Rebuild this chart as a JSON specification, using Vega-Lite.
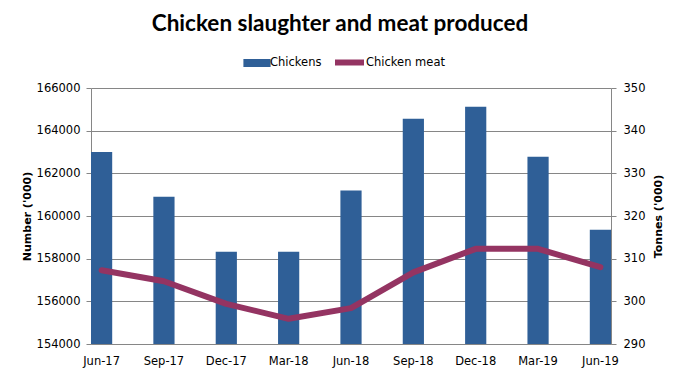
{
  "$schema": "https://vega.github.io/schema/vega-lite/v6.json",
  "width": 520,
  "height": 256,
  "autosize": {"type": "none"},
  "padding": {"left": 91, "top": 88, "right": 70, "bottom": 34},
  "background": "white",
  "title": {
    "text": "Chicken slaughter and meat produced",
    "font": "Lato",
    "fontSize": 22.5,
    "fontWeight": "bold",
    "color": "#000000",
    "anchor": "middle",
    "dx": -11,
    "offset": 10
  },
  "data": {
    "values": [
      {"period": "Jun-17", "chickens": 163000, "meat": 307.3},
      {"period": "Sep-17", "chickens": 160900, "meat": 304.7},
      {"period": "Dec-17", "chickens": 158320, "meat": 299.4},
      {"period": "Mar-18", "chickens": 158320, "meat": 295.9},
      {"period": "Jun-18", "chickens": 161190, "meat": 298.4},
      {"period": "Sep-18", "chickens": 164560, "meat": 306.8},
      {"period": "Dec-18", "chickens": 165120, "meat": 312.3},
      {"period": "Mar-19", "chickens": 162780, "meat": 312.3},
      {"period": "Jun-19", "chickens": 159360, "meat": 308.0}
    ]
  },
  "encoding": {
    "x": {
      "field": "period",
      "type": "ordinal",
      "sort": null,
      "scale": {"paddingInner": 0.66, "paddingOuter": 0},
      "axis": {
        "title": null,
        "labelAngle": 0,
        "ticks": false,
        "labelPadding": 11,
        "labelFont": "DejaVu Sans",
        "labelFontSize": 11.5,
        "labelColor": "#000000",
        "domainColor": "#868686",
        "grid": false
      }
    }
  },
  "layer": [
    {
      "mark": {"type": "bar", "clip": true},
      "encoding": {
        "y": {
          "field": "chickens",
          "type": "quantitative",
          "scale": {"domain": [154000, 166000], "zero": false, "nice": false},
          "axis": {
            "title": "Number ('000)",
            "values": [154000, 156000, 158000, 160000, 162000, 164000, 166000],
            "format": "d",
            "grid": true,
            "gridColor": "#868686",
            "gridOpacity": 1,
            "domainColor": "#868686",
            "tickColor": "#868686",
            "tickSize": 5,
            "labelPadding": 6,
            "labelFont": "DejaVu Sans",
            "labelFontSize": 11.5,
            "labelColor": "#000000",
            "titleFont": "DejaVu Sans",
            "titleFontSize": 11,
            "titleFontWeight": "bold",
            "titleColor": "#000000",
            "titlePadding": 4
          }
        },
        "fill": {
          "datum": "Chickens",
          "scale": {"range": ["#2F5F97"]},
          "legend": {
            "title": null,
            "orient": "none",
            "legendX": 158,
            "legendY": -33,
            "symbolType": "M-1.7,-0.5H1.7V0.5H-1.7Z",
            "symbolSize": 256,
            "symbolStrokeWidth": 0,
            "labelFont": "DejaVu Sans",
            "labelFontSize": 11.5,
            "labelColor": "#000000",
            "labelOffset": 5
          }
        }
      }
    },
    {
      "mark": {"type": "line", "strokeWidth": 6, "strokeCap": "round", "strokeJoin": "round"},
      "encoding": {
        "y": {
          "field": "meat",
          "type": "quantitative",
          "scale": {"domain": [290, 350], "zero": false, "nice": false},
          "axis": {
            "title": "Tonnes ('000)",
            "titleAngle": 270,
            "orient": "right",
            "values": [290, 300, 310, 320, 330, 340, 350],
            "grid": false,
            "domainColor": "#868686",
            "tickColor": "#868686",
            "tickSize": 5,
            "labelPadding": 7,
            "labelFont": "DejaVu Sans",
            "labelFontSize": 11.5,
            "labelColor": "#000000",
            "titleFont": "DejaVu Sans",
            "titleFontSize": 11,
            "titleFontWeight": "bold",
            "titleColor": "#000000",
            "titlePadding": 19
          }
        },
        "stroke": {
          "datum": "Chicken meat",
          "scale": {"range": ["#943462"]},
          "legend": {
            "title": null,
            "orient": "none",
            "legendX": 241,
            "legendY": -43,
            "symbolType": "stroke",
            "symbolSize": 841,
            "symbolStrokeWidth": 6,
            "labelFont": "DejaVu Sans",
            "labelFontSize": 11.5,
            "labelColor": "#000000",
            "labelOffset": -1
          }
        }
      }
    }
  ],
  "resolve": {"scale": {"y": "independent"}},
  "config": {
    "view": {"stroke": null}
  }
}
